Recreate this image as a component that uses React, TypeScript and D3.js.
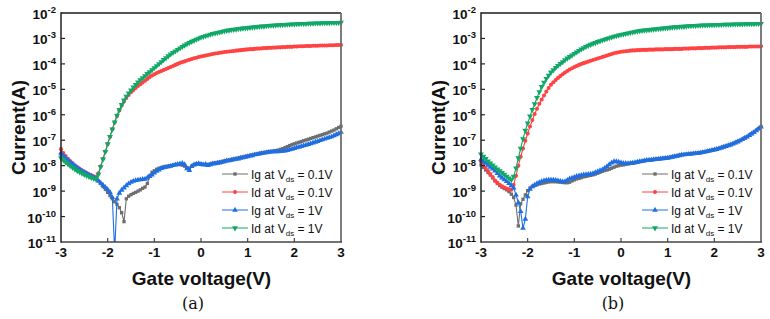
import React, { useEffect, useRef } from 'react';
import * as d3 from 'd3';

const WIDTH = 770;
const HEIGHT = 319;

// gate sweep: -3 V to 3 V in 50 mV steps (121 points)
const VGS = d3.range(121).map(i => -3 + i * 0.05);
const X_TICKS = [-3, -2, -1, 0, 1, 2, 3];
const Y_EXPONENTS = [-2, -3, -4, -5, -6, -7, -8, -9, -10, -11];

// log10 of the measured currents (A), one value per VGS step
// panel (a)
const igA01 = [
  -7.55, -7.64, -7.73, -7.81, -7.89, -7.96, -8.03, -8.10, -8.16, -8.22,
  -8.27, -8.32, -8.37, -8.42, -8.47, -8.52, -8.60, -8.70, -8.82, -8.93,
  -9.05, -9.18, -9.30, -9.42, -9.52, -9.65, -9.85, -10.20, -9.30, -9.20,
  -9.14, -9.09, -9.05, -9.00, -8.95, -8.89, -8.84, -8.70, -8.40, -8.26,
  -8.20, -8.14, -8.10, -8.07, -8.05, -8.03, -8.02, -8.00, -7.98, -7.96,
  -7.95, -7.96, -7.98, -8.02, -8.08, -8.10, -8.02, -7.96, -7.93, -7.92,
  -7.93, -7.95, -7.96, -7.95, -7.93, -7.91, -7.89, -7.88, -7.86, -7.84,
  -7.82, -7.80, -7.78, -7.76, -7.74, -7.72, -7.70, -7.68, -7.66, -7.64,
  -7.62, -7.60, -7.58, -7.56, -7.54, -7.52, -7.50, -7.49, -7.47, -7.45,
  -7.44, -7.43, -7.41, -7.39, -7.36, -7.33, -7.29, -7.25, -7.21, -7.17,
  -7.14, -7.11, -7.08, -7.05, -7.02, -6.99, -6.96, -6.93, -6.90, -6.87,
  -6.84, -6.81, -6.78, -6.75, -6.72, -6.68, -6.64, -6.60, -6.55, -6.50,
  -6.45,
];
const idA01 = [
  -7.35, -7.50, -7.62, -7.73, -7.83, -7.91, -7.99, -8.06, -8.13, -8.19,
  -8.24, -8.29, -8.34, -8.38, -8.42, -8.45, -8.30, -8.02, -7.73, -7.44,
  -7.15, -6.86, -6.57, -6.30, -6.05, -5.83, -5.64, -5.48, -5.34, -5.22,
  -5.11, -5.03, -4.95, -4.87, -4.80, -4.73, -4.66, -4.59, -4.52, -4.46,
  -4.41, -4.36, -4.32, -4.28, -4.24, -4.20, -4.16, -4.12, -4.08, -4.04,
  -4.00, -3.96, -3.93, -3.90, -3.87, -3.84, -3.81, -3.78, -3.76, -3.73,
  -3.71, -3.69, -3.67, -3.65, -3.63, -3.61, -3.59, -3.58, -3.56, -3.55,
  -3.53, -3.52, -3.51, -3.50, -3.49, -3.48, -3.47, -3.46, -3.45, -3.44,
  -3.43, -3.42, -3.42, -3.41, -3.40, -3.40, -3.39, -3.38, -3.38, -3.37,
  -3.37, -3.36, -3.36, -3.35, -3.35, -3.34, -3.34, -3.33, -3.33, -3.33,
  -3.32, -3.32, -3.31, -3.31, -3.31, -3.30, -3.30, -3.30, -3.29, -3.29,
  -3.29, -3.28, -3.28, -3.28, -3.28, -3.27, -3.27, -3.27, -3.26, -3.26,
  -3.26,
];
const igA1 = [
  -7.50, -7.60, -7.69, -7.78, -7.86, -7.94, -8.01, -8.08, -8.14, -8.20,
  -8.26, -8.31, -8.36, -8.41, -8.46, -8.51, -8.60, -8.68, -8.76, -8.85,
  -8.94, -9.05, -9.25, -11.40, -9.30, -9.08, -8.96, -8.87, -8.78, -8.71,
  -8.65, -8.61, -8.58, -8.56, -8.55, -8.54, -8.53, -8.48, -8.42, -8.36,
  -8.28, -8.21, -8.16, -8.11, -8.08, -8.06, -8.04, -8.02, -7.99, -7.97,
  -7.95, -7.93, -7.91, -7.96, -8.12, -8.18, -8.03, -7.97, -7.94, -7.92,
  -7.95, -7.97, -7.95, -7.99, -7.96, -7.93, -7.92, -7.90, -7.89, -7.86,
  -7.84, -7.81, -7.80, -7.78, -7.76, -7.74, -7.73, -7.70, -7.68, -7.66,
  -7.64, -7.61, -7.60, -7.57, -7.56, -7.54, -7.52, -7.50, -7.49, -7.47,
  -7.46, -7.45, -7.45, -7.45, -7.44, -7.43, -7.42, -7.40, -7.37, -7.35,
  -7.32, -7.29, -7.27, -7.24, -7.21, -7.19, -7.16, -7.13, -7.10, -7.07,
  -7.04, -7.01, -6.98, -6.95, -6.92, -6.89, -6.86, -6.82, -6.78, -6.74,
  -6.68,
];
const idA1 = [
  -7.70, -7.78, -7.86, -7.94, -8.01, -8.08, -8.14, -8.20, -8.25, -8.30,
  -8.35, -8.39, -8.43, -8.47, -8.50, -8.53, -8.35, -8.05, -7.75, -7.45,
  -7.15, -6.86, -6.57, -6.29, -6.03, -5.80, -5.60, -5.43, -5.28, -5.15,
  -5.03, -4.92, -4.82, -4.72, -4.63, -4.55, -4.47, -4.39, -4.32, -4.24,
  -4.16, -4.08, -4.00, -3.92, -3.84, -3.77, -3.69, -3.62, -3.56, -3.50,
  -3.44, -3.38, -3.32, -3.27, -3.22, -3.17, -3.12, -3.08, -3.04, -3.00,
  -2.96, -2.93, -2.90, -2.87, -2.84, -2.81, -2.79, -2.77, -2.75, -2.73,
  -2.71, -2.69, -2.68, -2.66, -2.65, -2.64, -2.62, -2.61, -2.60, -2.59,
  -2.58, -2.57, -2.56, -2.55, -2.54, -2.53, -2.52, -2.52, -2.51, -2.50,
  -2.49, -2.49, -2.48, -2.47, -2.47, -2.46, -2.46, -2.45, -2.45, -2.44,
  -2.44, -2.43, -2.43, -2.42, -2.42, -2.42, -2.41, -2.41, -2.41, -2.40,
  -2.40, -2.40, -2.39, -2.39, -2.39, -2.39, -2.38, -2.38, -2.38, -2.38,
  -2.37,
];

// panel (b)
const igB01 = [
  -7.97, -8.07, -8.17, -8.27, -8.37, -8.48, -8.60, -8.70, -8.78, -8.85,
  -8.90, -8.95, -9.02, -9.12, -9.25, -9.55, -10.37, -9.50, -9.32, -9.15,
  -8.98, -8.88, -8.82, -8.78, -8.75, -8.72, -8.70, -8.68, -8.66, -8.64,
  -8.63, -8.63, -8.63, -8.64, -8.65, -8.66, -8.67, -8.67, -8.65, -8.60,
  -8.56, -8.52, -8.50, -8.47, -8.44, -8.42, -8.40, -8.38, -8.36, -8.33,
  -8.30, -8.26, -8.22, -8.19, -8.17, -8.14, -8.10, -8.06, -8.02, -8.00,
  -7.98, -7.97, -7.95, -7.93, -7.91, -7.89, -7.88, -7.86, -7.84, -7.82,
  -7.80, -7.79, -7.78, -7.77, -7.76, -7.74, -7.73, -7.72, -7.71, -7.70,
  -7.69, -7.67, -7.65, -7.63, -7.61, -7.59, -7.57, -7.56, -7.55, -7.54,
  -7.53, -7.52, -7.51, -7.50, -7.49, -7.47, -7.45, -7.43, -7.41, -7.39,
  -7.37, -7.35, -7.32, -7.29, -7.26, -7.23, -7.20, -7.17, -7.13, -7.09,
  -7.05, -7.01, -6.96, -6.91, -6.86, -6.80, -6.74, -6.68, -6.61, -6.54,
  -6.46,
];
const idB01 = [
  -7.84, -7.97, -8.09, -8.21, -8.33, -8.45, -8.58, -8.67, -8.75, -8.81,
  -8.86, -8.90, -8.93, -8.95, -8.75, -8.40, -8.00, -7.65, -7.33, -7.02,
  -6.74, -6.46, -6.21, -5.97, -5.76, -5.57, -5.40, -5.24, -5.09, -4.95,
  -4.82, -4.72, -4.63, -4.55, -4.48, -4.41, -4.34, -4.28, -4.22, -4.17,
  -4.12, -4.08, -4.04, -4.00, -3.97, -3.94, -3.91, -3.88, -3.85, -3.82,
  -3.79, -3.76, -3.73, -3.70, -3.67, -3.64, -3.61, -3.58, -3.56, -3.54,
  -3.52, -3.51, -3.50, -3.49, -3.48, -3.47, -3.47, -3.46, -3.46, -3.45,
  -3.45, -3.45, -3.44, -3.44, -3.44, -3.43, -3.43, -3.43, -3.43, -3.42,
  -3.42, -3.42, -3.42, -3.41, -3.41, -3.41, -3.41, -3.40, -3.40, -3.40,
  -3.39, -3.39, -3.39, -3.38, -3.38, -3.38, -3.37, -3.37, -3.37, -3.36,
  -3.36, -3.36, -3.35, -3.35, -3.35, -3.35, -3.34, -3.34, -3.34, -3.34,
  -3.33, -3.33, -3.33, -3.33, -3.33, -3.32, -3.32, -3.32, -3.32, -3.32,
  -3.31,
];
const igB1 = [
  -7.75, -7.83, -7.90, -7.98, -8.06, -8.13, -8.20, -8.30, -8.40, -8.48,
  -8.55, -8.62, -8.70, -8.78, -8.87, -9.15, -9.45, -9.80, -10.45, -10.10,
  -9.22, -8.92, -8.82, -8.76, -8.70, -8.66, -8.62, -8.59, -8.57, -8.56,
  -8.56, -8.56, -8.57, -8.59, -8.61, -8.63, -8.62, -8.57, -8.52, -8.49,
  -8.46, -8.42, -8.40, -8.38, -8.36, -8.35, -8.34, -8.33, -8.31, -8.27,
  -8.23, -8.19, -8.16, -8.10, -8.03, -7.96, -7.89, -7.84, -7.84, -7.86,
  -7.89, -7.91, -7.91, -7.92, -7.91, -7.90, -7.88, -7.86, -7.84, -7.83,
  -7.81, -7.79, -7.78, -7.77, -7.76, -7.75, -7.74, -7.73, -7.72, -7.71,
  -7.70, -7.68, -7.66, -7.64, -7.62, -7.60, -7.58, -7.57, -7.56, -7.55,
  -7.54, -7.53, -7.52, -7.51, -7.50, -7.48, -7.46, -7.44, -7.42, -7.40,
  -7.38, -7.36, -7.33, -7.30, -7.27, -7.24, -7.21, -7.18, -7.14, -7.10,
  -7.06, -7.02, -6.97, -6.92, -6.87, -6.81, -6.75, -6.69, -6.62, -6.55,
  -6.47,
];
const idB1 = [
  -7.55, -7.64, -7.73, -7.82, -7.90, -7.98, -8.06, -8.14, -8.21, -8.28,
  -8.35, -8.42, -8.49, -8.56, -8.42, -8.10, -7.70, -7.32, -6.95, -6.62,
  -6.33, -6.06, -5.80, -5.57, -5.33, -5.10, -4.90, -4.73, -4.58, -4.45,
  -4.33, -4.24, -4.15, -4.07, -3.99, -3.92, -3.85, -3.78, -3.72, -3.66,
  -3.60, -3.54, -3.48, -3.42, -3.37, -3.32, -3.28, -3.24, -3.20, -3.17,
  -3.13, -3.10, -3.07, -3.04, -3.01, -2.98, -2.95, -2.92, -2.90, -2.87,
  -2.85, -2.83, -2.81, -2.79, -2.77, -2.75, -2.73, -2.72, -2.70, -2.69,
  -2.68, -2.67, -2.66, -2.65, -2.64, -2.63, -2.62, -2.61, -2.60, -2.59,
  -2.58, -2.57, -2.56, -2.55, -2.55, -2.54, -2.53, -2.53, -2.52, -2.51,
  -2.51, -2.50, -2.50, -2.49, -2.49, -2.48, -2.48, -2.48, -2.47, -2.47,
  -2.47, -2.46, -2.46, -2.46, -2.45, -2.45, -2.45, -2.45, -2.44, -2.44,
  -2.44, -2.44, -2.44, -2.43, -2.43, -2.43, -2.43, -2.43, -2.42, -2.42,
  -2.42,
];

// legend text: [before subscript, subscript, after]
const LEGEND_LABELS = [
  ['Ig at V', 'ds', ' = 0.1V'],
  ['Id at V', 'ds', ' = 0.1V'],
  ['Ig at V', 'ds', ' = 1V'],
  ['Id at V', 'ds', ' = 1V'],
];

const SERIES_STYLE = [
  { color: '#6e6e6e', symbol: d3.symbolSquare, size: 11, rotate: 0 },
  { color: '#ff4242', symbol: d3.symbolCircle, size: 13, rotate: 0 },
  { color: '#1f6fe3', symbol: d3.symbolTriangle, size: 14, rotate: 0 },
  { color: '#10a867', symbol: d3.symbolTriangle, size: 15, rotate: 180 },
];

const PANELS = [
  { left: 61, letter: '(a)', series: [igA01, idA01, igA1, idA1], legendX: 222 },
  { left: 481, letter: '(b)', series: [igB01, idB01, igB1, idB1], legendX: 642 },
];

const SANS = '"Liberation Sans", Arial, Helvetica, sans-serif';
const SERIF = '"DejaVu Serif", "Liberation Serif", serif';

function drawPanel(svg, panel, idx) {
  const top = 13;
  const bottom = 242;
  const plotW = 280;
  const { left } = panel;
  const right = left + plotW;

  const x = d3.scaleLinear().domain([-3, 3]).range([left, right]);
  const y = d3.scaleLog().domain([1e-11, 1e-2]).range([bottom, top]);

  const clipId = `plot-clip-${idx}`;
  svg.append('defs')
    .append('clipPath')
    .attr('id', clipId)
    .append('rect')
    .attr('x', left - 6)
    .attr('y', 0)
    .attr('width', plotW + 12)
    .attr('height', bottom);

  const g = svg.append('g');

  // curves
  const plot = g.append('g').attr('clip-path', `url(#${clipId})`);
  panel.series.forEach((vals, si) => {
    const style = SERIES_STYLE[si];
    const pts = VGS.slice(0, vals.length).map((v, i) => ({ v, i: Math.pow(10, vals[i]) }));
    const line = d3.line()
      .x(d => x(d.v))
      .y(d => y(d.i));

    plot.append('path')
      .datum(pts)
      .attr('d', line)
      .attr('fill', 'none')
      .attr('stroke', style.color)
      .attr('stroke-width', 1.1);

    const sym = d3.symbol().type(style.symbol).size(style.size);
    plot.append('g')
      .selectAll('path')
      .data(pts)
      .enter()
      .append('path')
      .attr('d', sym)
      .attr('transform', d => `translate(${x(d.v)},${y(d.i)}) rotate(${style.rotate})`)
      .attr('fill', style.color);
  });

  // frame
  g.append('line')
    .attr('x1', left).attr('x2', right).attr('y1', top).attr('y2', top)
    .attr('stroke', '#1a1a1a').attr('stroke-width', 1.5);
  g.append('line')
    .attr('x1', right).attr('x2', right).attr('y1', top).attr('y2', bottom)
    .attr('stroke', '#6f6f6f').attr('stroke-width', 1.8);
  g.append('line')
    .attr('x1', left).attr('x2', right + 1).attr('y1', bottom).attr('y2', bottom)
    .attr('stroke', '#444').attr('stroke-width', 1.5);
  g.append('line')
    .attr('x1', left).attr('x2', left).attr('y1', top - 0.75).attr('y2', bottom + 0.75)
    .attr('stroke', '#222').attr('stroke-width', 1.5);

  // x ticks (inward) and labels
  X_TICKS.forEach(t => {
    if (t > -3 && t < 3) {
      g.append('line')
        .attr('x1', x(t)).attr('x2', x(t))
        .attr('y1', bottom).attr('y2', bottom - 4)
        .attr('stroke', '#444').attr('stroke-width', 1.2);
    }
    g.append('text')
      .attr('x', x(t))
      .attr('y', 257)
      .attr('text-anchor', 'middle')
      .attr('font-family', SANS)
      .attr('font-weight', 'bold')
      .attr('font-size', 13.5)
      .attr('fill', '#111')
      .text(t);
  });

  // y ticks (inward) and labels as 10^n
  Y_EXPONENTS.forEach(e => {
    const yy = y(Math.pow(10, e));
    if (e !== -2 && e !== -11) {
      g.append('line')
        .attr('x1', left).attr('x2', left + 4)
        .attr('y1', yy).attr('y2', yy)
        .attr('stroke', '#222').attr('stroke-width', 1.2);
    }
    const label = g.append('text')
      .attr('x', left - 5)
      .attr('y', yy + 6)
      .attr('text-anchor', 'end')
      .attr('font-family', SANS)
      .attr('font-weight', 'bold')
      .attr('font-size', 13.5)
      .attr('fill', '#111');
    label.append('tspan').text('10');
    label.append('tspan')
      .attr('font-size', 9.5)
      .attr('dy', -6)
      .text(String(e));
  });

  // axis titles
  g.append('text')
    .attr('transform', `translate(${left - 36},${(top + bottom) / 2}) rotate(-90)`)
    .attr('text-anchor', 'middle')
    .attr('font-family', SANS)
    .attr('font-weight', 'bold')
    .attr('font-size', 19)
    .attr('fill', '#111')
    .text('Current(A)');

  g.append('text')
    .attr('x', left + 140.5)
    .attr('y', 285)
    .attr('text-anchor', 'middle')
    .attr('font-family', SANS)
    .attr('font-weight', 'bold')
    .attr('font-size', 19)
    .attr('fill', '#111')
    .text('Gate voltage(V)');

  g.append('text')
    .attr('x', left + 132)
    .attr('y', 309)
    .attr('text-anchor', 'middle')
    .attr('font-family', SERIF)
    .attr('font-size', 16)
    .attr('fill', '#111')
    .text(panel.letter);

  // legend
  const lg = g.append('g');
  LEGEND_LABELS.forEach((parts, i) => {
    const style = SERIES_STYLE[i];
    const cy = 174 + i * 18;
    const lx = panel.legendX;
    lg.append('line')
      .attr('x1', lx).attr('x2', lx + 26)
      .attr('y1', cy).attr('y2', cy)
      .attr('stroke', style.color).attr('stroke-width', 1);
    lg.append('path')
      .attr('d', d3.symbol().type(style.symbol).size(style.size)())
      .attr('transform', `translate(${lx + 13},${cy}) rotate(${style.rotate})`)
      .attr('fill', style.color);
    const t = lg.append('text')
      .attr('x', lx + 29)
      .attr('y', cy + 4.5)
      .attr('font-family', SANS)
      .attr('font-size', 12)
      .attr('fill', '#111');
    t.append('tspan').text(parts[0]);
    t.append('tspan').attr('font-size', 8).attr('dy', 3).text(parts[1]);
    t.append('tspan').attr('dy', -3).text(parts[2]);
  });
}

export default function App() {
  const svgRef = useRef(null);

  useEffect(() => {
    if (!svgRef.current) return;
    const svg = d3.select(svgRef.current);
    svg.selectAll('*').remove();
    PANELS.forEach((p, i) => drawPanel(svg, p, i));
  }, []);

  return (
    <svg
      ref={svgRef}
      width={WIDTH}
      height={HEIGHT}
      style={{ position: 'absolute', left: 0, top: 0, background: '#fff' }}
    />
  );
}
